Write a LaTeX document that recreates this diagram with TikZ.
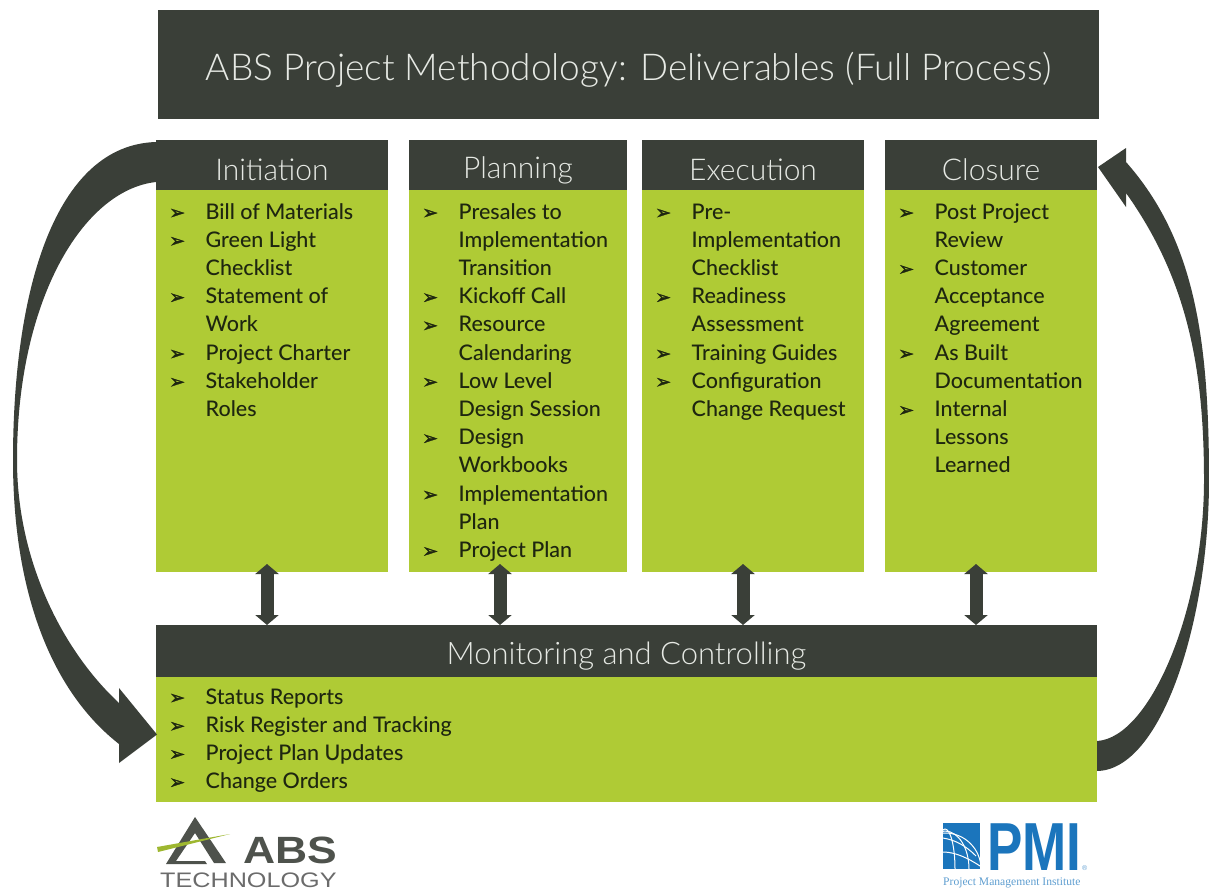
\documentclass[tikz,border=0pt]{standalone}
\usepackage{fontspec}
\setmainfont{Lato}
\newfontfamily\lightf{Lato Light}
\newfontfamily\medf{Lato Medium}
\newfontfamily\dv[FakeBold=1.6]{DejaVu Sans}
\newfontfamily\lib{Liberation Sans}
\newfontfamily\libs{Liberation Serif}
\usetikzlibrary{arrows.meta}
\definecolor{dk}{HTML}{3A3F38}
\definecolor{gr}{HTML}{AFCB35}
\definecolor{tx}{HTML}{1E2610}
\definecolor{hd}{HTML}{E6E9E4}
\definecolor{pmi}{HTML}{1B75BC}
\newcommand{\itm}[1]{\hbox{\makebox[36.5pt][l]{\dv\fontsize{19}{19}\selectfont ➢}#1}}
\newcommand{\cnt}[1]{\hbox{\hspace{36.5pt}#1}}
\newcommand{\dn}[1]{\raisebox{-5pt}[\height][\depth]{#1}}
\newenvironment{lst}{\vtop\bgroup\medf\fontsize{21.5}{28.2}\selectfont\baselineskip=28.2pt\lineskiplimit=-100pt}{\egroup}
\tikzset{
  box/.style={anchor=north west,inner sep=0pt,outer sep=0pt},
  headbox/.style={box,fill=dk,text=hd,font=\lightf\fontsize{30}{30}\selectfont},
  bodybox/.style={box,fill=gr},
  listtext/.style={anchor=base west,inner sep=0pt,text=tx},
  dbl/.style={dk,line width=13pt,{Triangle[width=23pt,length=10pt]}-{Triangle[width=23pt,length=10pt]}},
  bigarrow/.style={fill=dk,draw=none}
}
\begin{document}
\begin{tikzpicture}[x=1pt,y=-1pt]
\useasboundingbox (0,0) rectangle (1209,888);
\node[box,fill=dk,text=hd,minimum width=941pt,minimum height=109pt,font=\lightf\fontsize{37}{37}\selectfont] (title) at (158,10) {\dn{ABS Project Methodology: Deliverables (Full Process)}};
% columns
\node[headbox,minimum width=232pt,minimum height=50pt] (inithead) at (156,140) {\dn{Initiation}};
\node[bodybox,minimum width=232pt,minimum height=382pt] (initbody) at (156,190) {};
\node[headbox,minimum width=218pt,minimum height=50pt] (planhead) at (409,140) {\dn{Planning}};
\node[bodybox,minimum width=218pt,minimum height=382pt] (planbody) at (409,190) {};
\node[headbox,minimum width=222pt,minimum height=50pt] (exechead) at (642,140) {\dn{Execution}};
\node[bodybox,minimum width=222pt,minimum height=382pt] (execbody) at (642,190) {};
\node[headbox,minimum width=212pt,minimum height=50pt] (closhead) at (885,140) {\dn{Closure}};
\node[bodybox,minimum width=212pt,minimum height=382pt] (closbody) at (885,190) {};
\node[headbox,minimum width=941pt,minimum height=52pt,font=\lightf\fontsize{31}{31}\selectfont] (monhead) at (156,625) {\dn{Monitoring and Controlling}};
\node[bodybox,minimum width=941pt,minimum height=125pt] (monbody) at (156,677) {};
% lists
\node[listtext] (initlist) at (169,219) {\begin{lst}\itm{Bill of Materials}\itm{Green Light}\cnt{Checklist}\itm{Statement of}\cnt{Work}\itm{Project Charter}\itm{Stakeholder}\cnt{Roles}\end{lst}};
\node[listtext] (planlist) at (422,219) {\begin{lst}\itm{Presales to}\cnt{Implementation}\cnt{Transition}\itm{Kickoff Call}\itm{Resource}\cnt{Calendaring}\itm{Low Level}\cnt{Design Session}\itm{Design}\cnt{Workbooks}\itm{Implementation}\cnt{Plan}\itm{Project Plan}\end{lst}};
\node[listtext] (execlist) at (655,219) {\begin{lst}\itm{Pre-}\cnt{Implementation}\cnt{Checklist}\itm{Readiness}\cnt{Assessment}\itm{Training Guides}\itm{Configuration}\cnt{Change Request}\end{lst}};
\node[listtext] (closlist) at (898,219) {\begin{lst}\itm{Post Project}\cnt{Review}\itm{Customer}\cnt{Acceptance}\cnt{Agreement}\itm{As Built}\cnt{Documentation}\itm{Internal}\cnt{Lessons}\cnt{Learned}\end{lst}};
\node[listtext] (monlist) at (169,704) {\begin{lst}\itm{Status Reports}\itm{Risk Register and Tracking}\itm{Project Plan Updates}\itm{Change Orders}\end{lst}};
% double arrows
\coordinate (a1) at ([xshift=-5pt,yshift=8pt]initbody.south);
\coordinate (a2) at ([xshift=-18pt,yshift=8pt]planbody.south);
\coordinate (a3) at ([xshift=-10pt,yshift=8pt]execbody.south);
\coordinate (a4) at ([xshift=-15pt,yshift=8pt]closbody.south);
\draw[dbl] (a1) -- (a1 |- monhead.north);
\draw[dbl] (a2) -- (a2 |- monhead.north);
\draw[dbl] (a3) -- (a3 |- monhead.north);
\draw[dbl] (a4) -- (a4 |- monhead.north);
% big curved arrows
\coordinate (ls1) at ([yshift=-2pt]inithead.north west);
\coordinate (ls2) at ([yshift=8pt]inithead.south west);
\coordinate (lt) at ([xshift=1pt,yshift=5pt]monbody.west);
\fill[bigarrow] (ls1) .. controls (55,145) and (13,290) .. (13,460)
  .. controls (13,590) and (50,690) .. (119,744)
  -- (119,763) -- (lt) -- (119,688) -- (119,703)
  .. controls (62,650) and (17,560) .. (17,460)
  .. controls (17,300) and (83,190) .. (ls2) -- cycle;
\coordinate (rs1) at ([yshift=-1.5pt]monbody.east);
\coordinate (rs2) at ([yshift=-31.5pt]monbody.east);
\coordinate (rt) at ([xshift=1pt,yshift=-2pt]closhead.east);
\fill[bigarrow] (rs2) .. controls (1162,770) and (1209,620) .. (1209,480)
  .. controls (1209,340) and (1195,240) .. (1126,162)
  -- (1126,148) -- (rt) -- (1126,207) -- (1126,193)
  .. controls (1188,280) and (1204,370) .. (1204,480)
  .. controls (1204,610) and (1150,738) .. (rs1) -- cycle;
% ABS logo
\fill[dk!90!white] (195,817) -- (226,863) -- (214,863) -- (195,833) -- (176,861) -- (205,861) -- (207,864) -- (166,864) -- cycle;
\fill[gr!90!black] (157,847) -- (230,834) -- (158,852) -- cycle;
\node[inner sep=0pt,anchor=base west,text=dk!90!white,text depth=0pt] (abstext) at (243,863) {\lib\bfseries\fontsize{38}{38}\selectfont\scalebox{1.17}[1]{ABS}};
\node[inner sep=0pt,anchor=base west,text=black!58,text depth=0pt] (abssub) at (160,887.5) {\lib\fontsize{21}{21}\selectfont\scalebox{1.2}[1]{TECHNOLOGY}};
% PMI logo
\begin{scope}
\clip (943,823) rectangle (980,869);
\fill[pmi] (943,823) rectangle (980,869);
\draw[white,line width=1pt] (945,869) circle[radius=36];
\draw[white,line width=1pt] (945,869) ellipse[x radius=24,y radius=38];
\draw[white,line width=1pt] (945,869) ellipse[x radius=10,y radius=40];
\draw[white,line width=1pt] (943,838) .. controls (955,840) and (965,845) .. (976,856);
\draw[white,line width=1pt] (943,852) .. controls (955,852) and (968,858) .. (980,866);
\end{scope}
\node[inner sep=0pt,anchor=base west,text=pmi,text depth=0pt] (pmiword) at (987,870) {\lib\bfseries\fontsize{68}{68}\selectfont\scalebox{.78}[1]{PMI}};
\node[inner sep=0pt,anchor=base west,text=pmi!70!white,text depth=0pt] (pmireg) at (1082,870) {\lib\fontsize{7}{7}\selectfont ®};
\node[inner sep=0pt,anchor=base west,text=pmi!70!white] (pmicap) at (943,885) {\libs\fontsize{11.6}{11.6}\selectfont Project Management Institute};
\end{tikzpicture}
\end{document}
